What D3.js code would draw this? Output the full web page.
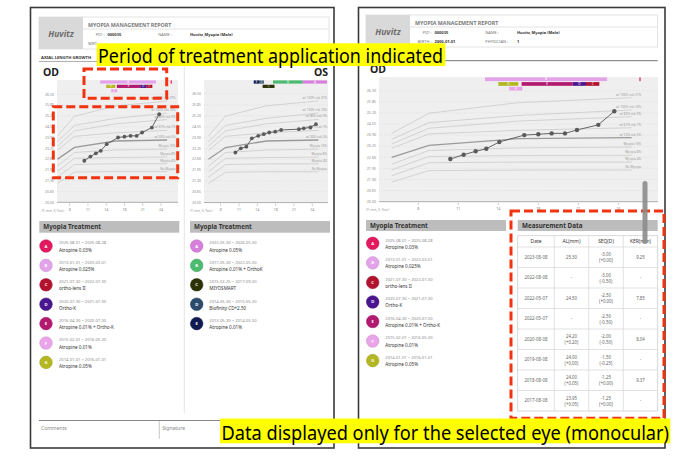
<!DOCTYPE html>
<html>
<head>
<meta charset="utf-8">
<script src="https://cdn.jsdelivr.net/npm/d3@7"></script>
<style>
  body { margin: 0; background: #fff; }
  svg { display: block; font-family: "Noto Sans", "Open Sans", sans-serif; }
</style>
</head>
<body>
<div id="chart"></div>
<script>
// ---- data ----
var yTicks = [20.00, 20.65, 21.30, 21.95, 22.60, 23.25, 23.90, 24.55, 25.20, 25.85, 26.50];
var xTicks = [8, 11, 14, 18, 21, 24];

var odAge = [10.4, 11.4, 12.3, 13.1, 14.1, 16.6, 18.0, 19.0, 20.0, 20.9, 22.5, 23.7];
var odAL  = [22.50, 22.75, 22.95, 23.10, 23.50, 23.90, 23.95, 24.00, 24.00, 24.20, 24.50, 25.30];
var osAge = [10.4, 11.3, 12.2, 13.1, 14.2, 15.4, 16.6, 17.9, 18.9, 21.8, 22.6, 23.7, 24.6];
var osAL  = [23.00, 23.25, 23.35, 23.85, 24.00, 24.10, 24.20, 24.25, 24.35, 24.40, 24.45, 24.50, 24.70];

// reference growth curves (age -> axial length)
var curveAge = [6, 8.8, 16, 25];
var curveNames = ["w/ 100% risk 37%", "w/ 100% risk 16%", "w/ 80% risk 9%", "w/ 67% risk 7%",
                  "w/ 33% risk 5%", "Myopia 16%", "Myopia 8%", "Myopia 4%", "No Myopia"];
var curveValues = [
  [24.00, 25.18, 25.80, 26.09],
  [23.65, 24.63, 25.05, 25.37],
  [23.38, 24.30, 24.72, 24.98],
  [23.13, 23.97, 24.18, 24.33],
  [22.60, 23.30, 23.69, 23.75],
  [22.19, 23.00, 23.15, 23.20],
  [21.86, 22.65, 22.70, 22.72],
  [21.52, 22.28, 22.32, 22.32],
  [21.15, 21.82, 21.85, 21.85]
];
var thickCurve = 4;

var birthDate = "2000-01-01";

var odLetters = ["A", "B", "C", "D", "E", "F", "G"];
var odStart = ["2025-08-01", "2013-01-01", "2021-07-30", "2020-07-30", "2016-04-30", "2015-02-01", "2014-01-01"];
var odEnd   = ["2025-08-28", "2023-03-01", "2022-07-30", "2021-07-30", "2020-07-30", "2016-05-30", "2016-01-01"];
var odNames = ["Atropine 0.03%", "Atropine 0.025%", "ortho-lens II", "Ortho-K",
               "Atropine 0.01% + Ortho-K", "Atropine 0.01%", "Atropine 0.05%"];
var odColors = ["#e2195e", "#e2a3ea", "#b3122f", "#4a1590", "#b3196f", "#eaa5ea", "#b3b722"];

var osLetters = ["A", "B", "C", "D", "E"];
var osStart = ["2022-05-30", "2017-05-30", "2015-02-25", "2014-05-30", "2013-05-30"];
var osEnd   = ["2026-05-30", "2022-05-30", "2017-09-30", "2015-05-30", "2014-05-30"];
var osNames = ["Atropine 0.05%", "Atropine 0.01% + OrthoK", "MIYOSMART", "Biofinity CD+2.50", "Atropine 0.01%"];
var osColors = ["#d77fdc", "#4cba6f", "#2c3106", "#2c4a6b", "#0f1b50"];

var tableHead = ["Date", "AL(mm)", "SEQ(D)", "KER(mm)"];
var mDate  = ["2023-08-08", "2022-08-08", "2022-05-07", "2022-05-07", "2020-08-08", "2019-08-08", "2018-08-08", "2017-08-08"];
var mAL    = ["25.30", "-", "24.50", "-", "24.20", "24.00", "24.00", "23.95"];
var mALd   = ["", "", "", "", "(+0.20)", "(+0.00)", "(+0.05)", "(+0.05)"];
var mSEQ   = ["-3.00", "-3.00", "-2.50", "-2.50", "-2.00", "-1.50", "-1.25", "-1.25"];
var mSEQd  = ["(+0.00)", "(-0.50)", "(+0.00)", "(-0.50)", "(-0.50)", "(-0.25)", "(+0.00)", "(+0.00)"];
var mKER   = ["9.25", "-", "7.85", "-", "8.04", "-", "9.37", "-"];

// ---- helpers ----
var parseDate = d3.timeParse("%Y-%m-%d");
var birth = parseDate(birthDate);
function ageOf(s) { return (parseDate(s) - birth) / (365.25 * 864e5); }

// greedy row placement so overlapping periods stack
function treatRows(starts, ends) {
  var items = starts.map(function(s, i) { return {i: i, s: ageOf(s), e: ageOf(ends[i])}; });
  items.sort(function(a, b) { return a.s - b.s; });
  var rowEnds = [], rows = [];
  items.forEach(function(it) {
    var r = 0;
    while (r < rowEnds.length && rowEnds[r] > it.s + 1e-6) r++;
    rowEnds[r] = it.e;
    rows[it.i] = r;
  });
  return rows;
}

var svg = d3.select("#chart")
  .append("svg")
    .attr("width", 692)
    .attr("height", 463);

svg.append("rect").attr("width", 692).attr("height", 463).attr("fill", "#fff");

// page frames
[[30.5, 7.5, 303.5, 440.5], [358.5, 7.5, 306.5, 440.5]].forEach(function(p) {
  svg.append("rect")
    .attr("x", p[0]).attr("y", p[1]).attr("width", p[2]).attr("height", p[3])
    .attr("fill", "#fff").attr("stroke", "#3a3a3a").attr("stroke-width", 1.6);
});

function drawHeader(L, T, R, birthRow) {
  var g = svg.append("g");
  g.append("rect").attr("x", L).attr("y", T).attr("width", R - L).attr("height", 32)
    .attr("fill", "#fff").attr("stroke", "#dcdcdc").attr("stroke-width", 0.8);
  g.append("rect").attr("x", L).attr("y", T).attr("width", 44).attr("height", 32).attr("fill", "#d9d9d9");
  g.append("line").attr("x1", L + 44).attr("x2", R).attr("y1", T + 12).attr("y2", T + 12)
    .attr("stroke", "#dcdcdc").attr("stroke-width", 0.8);
  g.append("text").attr("x", L + 22).attr("y", T + 20).attr("text-anchor", "middle")
    .style("font-size", "8.5px").style("font-weight", "bold").style("font-style", "italic")
    .attr("fill", "#6e6e6e").text("Huvitz");
  g.append("text").attr("x", L + 49).attr("y", T + 10)
    .style("font-size", "5.3px").style("font-weight", "bold").attr("fill", "#7a7a7a")
    .text("MYOPIA MANAGEMENT REPORT");
  var info = [["PID :", "000035", "NAME :", "Huvitz_Myopia (Male)", 19]];
  if (birthRow) info.push(["BIRTH :", "2000-01-01", "PHYSICIAN :", "1", 28]);
  info.forEach(function(r) {
    g.append("text").attr("x", L + 65.5).attr("y", T + r[4]).attr("text-anchor", "end")
      .style("font-size", "4px").attr("fill", "#777").text(r[0]);
    g.append("text").attr("x", L + 68.5).attr("y", T + r[4])
      .style("font-size", "4px").style("font-weight", "bold").attr("fill", "#333").text(r[1]);
    g.append("text").attr("x", L + 119.3).attr("y", T + r[4])
      .style("font-size", "4px").attr("fill", "#777").text(r[2]);
    g.append("text").attr("x", L + 151).attr("y", T + r[4])
      .style("font-size", "4px").style("font-weight", "bold").attr("fill", "#333").text(r[3]);
  });
  if (!birthRow) {
    // only the start of the label peeks out from under the note on this page
    g.append("text").attr("x", L + 49.3).attr("y", T + 28)
      .style("font-size", "4px").attr("fill", "#777").text("BIRT");
  }
}

function drawGrowth(o) {
  var g = svg.append("g");
  var x = d3.scaleLinear()
    .domain(xTicks)
    .range(xTicks.map(function(d, i) { return o.t0 + i * (o.t1 - o.t0) / (xTicks.length - 1); }));
  var y = d3.scaleLinear().domain([20, 26.5]).range([o.yb, o.yt]);

  // plot background
  g.append("rect").attr("x", o.l).attr("y", o.top).attr("width", o.r - o.l).attr("height", o.yb - o.top)
    .attr("fill", "#efefef");

  // grid + y labels
  g.selectAll(".grid").data(yTicks.slice(1)).enter().append("line")
    .attr("x1", o.l).attr("x2", o.r)
    .attr("y1", function(d) { return y(d); }).attr("y2", function(d) { return y(d); })
    .attr("stroke", "#d2d2d2").attr("stroke-width", 0.5).attr("stroke-dasharray", "1,1.5");
  g.selectAll(".yl").data(yTicks).enter().append("text")
    .attr("x", o.l - 3).attr("y", function(d) { return y(d) + 1.2; })
    .attr("text-anchor", "end").style("font-size", o.fs + "px").attr("fill", "#888")
    .text(function(d) { return d.toFixed(2); });

  // x axis
  g.append("line").attr("x1", o.l).attr("x2", o.r).attr("y1", o.yb).attr("y2", o.yb)
    .attr("stroke", "#9a9a9a").attr("stroke-width", 0.8);
  g.selectAll(".xt").data(xTicks).enter().append("line")
    .attr("x1", function(d) { return x(d); }).attr("x2", function(d) { return x(d); })
    .attr("y1", o.yb + 1).attr("y2", o.yb + 3.5)
    .attr("stroke", "#999").attr("stroke-width", 0.5);
  g.selectAll(".xl").data(xTicks).enter().append("text")
    .attr("x", function(d) { return x(d); }).attr("y", o.yb + 8.5)
    .attr("text-anchor", "middle").style("font-size", o.fs + "px").attr("fill", "#888")
    .text(function(d) { return d; });
  g.append("text").attr("x", o.capX).attr("y", o.yb + 9.5)
    .style("font-size", (o.fs - 0.4) + "px").attr("fill", "#999").text("(Y: mm, X: Year)");

  // reference curves
  var line = d3.line()
    .x(function(d) { return x(d[0]); })
    .y(function(d) { return y(d[1]); });
  curveValues.forEach(function(vals, k) {
    g.append("path")
      .attr("d", line(curveAge.map(function(a, i) { return [a, vals[i]]; })))
      .attr("fill", "none")
      .attr("stroke", k === thickCurve ? "#9a9a9a" : "#cacaca")
      .attr("stroke-width", k === thickCurve ? 1.3 : 0.8);
    g.append("text")
      .attr("x", x(curveAge[curveAge.length - 1]) + o.labelDx)
      .attr("y", y(vals[vals.length - 1]) - 2)
      .attr("text-anchor", "end").style("font-size", (o.fs - 0.5) + "px").attr("fill", "#9a9a9a")
      .text(curveNames[k]);
  });

  // treatment periods
  var rows = treatRows(o.tStart, o.tEnd);
  o.tStart.forEach(function(s, i) {
    var x0 = x(ageOf(s)), x1 = x(ageOf(o.tEnd[i]));
    var w = Math.max(x1 - x0, 1.2);
    var by = o.top + 0.4 + rows[i] * o.pitch;
    g.append("rect").attr("x", x0).attr("y", by).attr("width", w).attr("height", o.barH)
      .attr("fill", o.tColors[i]);
    if (w > 4) {
      g.append("text").attr("x", x0 + w / 2).attr("y", by + o.barH * 0.8)
        .attr("text-anchor", "middle").style("font-size", (o.barH * 0.85) + "px")
        .attr("fill", "#fff").text(o.tLetters[i]);
    }
  });

  // measurements
  var pts = o.ages.map(function(a, i) { return [a, o.al[i]]; });
  g.append("path").attr("d", line(pts)).attr("fill", "none")
    .attr("stroke", "#555").attr("stroke-width", 0.9);
  g.selectAll(".pt").data(pts).enter().append("circle")
    .attr("cx", function(d) { return x(d[0]); })
    .attr("cy", function(d) { return y(d[1]); })
    .attr("r", o.pr).attr("fill", "#5a5a5a");
}

function drawTreatList(o) {
  var g = svg.append("g");
  g.append("rect").attr("x", o.l).attr("y", o.top).attr("width", o.w).attr("height", o.h).attr("fill", "#bdbdbd");
  g.append("text").attr("x", o.l + 4).attr("y", o.top + o.h * 0.72)
    .style("font-size", "6.3px").style("font-weight", "bold").attr("fill", "#333").text("Myopia Treatment");
  o.letters.forEach(function(L, i) {
    var cy = o.cy0 + i * o.pitch;
    g.append("circle").attr("cx", o.cx).attr("cy", cy).attr("r", 6.3)
      .attr("fill", o.colors[i]).attr("stroke", d3.color(o.colors[i]).darker(0.4)).attr("stroke-width", 0.5);
    g.append("text").attr("x", o.cx).attr("y", cy + 1.5).attr("text-anchor", "middle")
      .style("font-size", "4.2px").style("font-weight", "bold").attr("fill", "#fff").text(L);
    g.append("text").attr("x", o.tx).attr("y", cy - 1.6)
      .style("font-size", "4.1px").attr("fill", "#888").text(o.start[i] + " ~ " + o.end[i]);
    g.append("text").attr("x", o.tx).attr("y", cy + 5.5)
      .style("font-size", "4.6px").attr("fill", "#333").text(o.names[i]);
  });
}

// ---------------- left page ----------------
drawHeader(39, 17, 329, false);
svg.append("text").attr("x", 41).attr("y", 59).style("font-size", "4.2px").style("font-weight", "bold")
  .attr("fill", "#333").text("AXIAL LENGTH GROWTH");
svg.append("line").attr("x1", 39).attr("x2", 329).attr("y1", 61.5).attr("y2", 61.5)
  .attr("stroke", "#9a9a9a").attr("stroke-width", 0.8);
svg.append("line").attr("x1", 184.3).attr("x2", 184.3).attr("y1", 62).attr("y2", 413)
  .attr("stroke", "#dedede").attr("stroke-width", 0.8);
svg.append("text").attr("x", 43).attr("y", 76).style("font-size", "10.5px").style("font-weight", "bold")
  .attr("fill", "#222").text("OD");
svg.append("text").attr("x", 328).attr("y", 76).attr("text-anchor", "end").style("font-size", "10.5px")
  .style("font-weight", "bold").attr("fill", "#222").text("OS");

drawGrowth({l: 57, r: 178, top: 80, yt: 94.3, yb: 202.3, t0: 69.7, t1: 161, fs: 3.5, capX: 41.7,
  labelDx: 8.5, pitch: 4.35, barH: 3.2, pr: 1.9,
  tStart: odStart, tEnd: odEnd, tColors: odColors, tLetters: odLetters, ages: odAge, al: odAL});
drawGrowth({l: 204, r: 328, top: 80, yt: 94.1, yb: 202.6, t0: 220.7, t1: 312.3, fs: 3.5, capX: 190,
  labelDx: 8.5, pitch: 4.35, barH: 3.2, pr: 1.9,
  tStart: osStart, tEnd: osEnd, tColors: osColors, tLetters: osLetters, ages: osAge, al: osAL});

drawTreatList({l: 39.3, top: 221, w: 140, h: 11.7, cx: 46, cy0: 246, pitch: 19.4, tx: 59,
  letters: odLetters, colors: odColors, start: odStart, end: odEnd, names: odNames});
drawTreatList({l: 190, top: 221, w: 140, h: 11.7, cx: 196.7, cy0: 246, pitch: 19.4, tx: 209.3,
  letters: osLetters, colors: osColors, start: osStart, end: osEnd, names: osNames});

// footer
svg.append("line").attr("x1", 39).attr("x2", 329).attr("y1", 420.5).attr("y2", 420.5)
  .attr("stroke", "#888").attr("stroke-width", 1.1);
svg.append("line").attr("x1", 159.3).attr("x2", 159.3).attr("y1", 421).attr("y2", 439)
  .attr("stroke", "#bbb").attr("stroke-width", 0.8);
svg.append("text").attr("x", 41).attr("y", 429.5).style("font-size", "5px").attr("fill", "#888").text("Comments");
svg.append("text").attr("x", 162.3).attr("y", 429.5).style("font-size", "5px").attr("fill", "#888").text("Signature");

// ---------------- right page ----------------
drawHeader(366, 15, 657.7, true);
svg.append("line").attr("x1", 366).attr("x2", 657.7).attr("y1", 60.7).attr("y2", 60.7)
  .attr("stroke", "#777").attr("stroke-width", 1);
svg.append("text").attr("x", 370).attr("y", 72.5).style("font-size", "10.5px").style("font-weight", "bold")
  .attr("fill", "#222").text("OD");

drawGrowth({l: 379, r: 658, top: 77, yt: 90.7, yb: 201.7, t0: 418.3, t1: 618.3, fs: 3.6, capX: 366,
  labelDx: 9.5, pitch: 4.7, barH: 3.7, pr: 2.2,
  tStart: odStart, tEnd: odEnd, tColors: odColors, tLetters: odLetters, ages: odAge, al: odAL});

drawTreatList({l: 366, top: 220, w: 140, h: 11, cx: 372.7, cy0: 243.3, pitch: 19.55, tx: 385.3,
  letters: odLetters, colors: odColors, start: odStart, end: odEnd, names: odNames});

// measurement data table
var mt = svg.append("g");
mt.append("rect").attr("x", 517.7).attr("y", 220).attr("width", 140).attr("height", 11).attr("fill", "#bdbdbd");
mt.append("text").attr("x", 522).attr("y", 228).style("font-size", "6.3px").style("font-weight", "bold")
  .attr("fill", "#333").text("Measurement Data");

var colX = [517.7, 554.3, 588.7, 623.3, 657.7];
var rowY = d3.scaleLinear().domain([0, mDate.length]).range([247, 411]);
var headTop = 235.7;
mt.append("rect").attr("x", colX[0]).attr("y", headTop).attr("width", colX[4] - colX[0]).attr("height", 411 - headTop)
  .attr("fill", "#fff").attr("stroke", "#cfcfcf").attr("stroke-width", 0.8);
colX.slice(1, 4).forEach(function(cx) {
  mt.append("line").attr("x1", cx).attr("x2", cx).attr("y1", headTop).attr("y2", 411)
    .attr("stroke", "#d6d6d6").attr("stroke-width", 0.7);
});
d3.range(mDate.length).forEach(function(i) {
  mt.append("line").attr("x1", colX[0]).attr("x2", colX[4]).attr("y1", rowY(i)).attr("y2", rowY(i))
    .attr("stroke", "#d6d6d6").attr("stroke-width", 0.7);
});
tableHead.forEach(function(h, j) {
  mt.append("text").attr("x", (colX[j] + colX[j + 1]) / 2).attr("y", headTop + 7.3)
    .attr("text-anchor", "middle").style("font-size", "4.9px").attr("fill", "#333").text(h);
});
function cell(j, i, main, delta) {
  var cxm = (colX[j] + colX[j + 1]) / 2, cym = (rowY(i) + rowY(i + 1)) / 2;
  if (delta) {
    mt.append("text").attr("x", cxm).attr("y", cym - 1.2).attr("text-anchor", "middle")
      .style("font-size", "4.4px").attr("fill", "#666").text(main);
    mt.append("text").attr("x", cxm).attr("y", cym + 5.2).attr("text-anchor", "middle")
      .style("font-size", "4.4px").attr("fill", "#666").text(delta);
  } else {
    mt.append("text").attr("x", cxm).attr("y", cym + 1.6).attr("text-anchor", "middle")
      .style("font-size", "4.4px").attr("fill", "#666").text(main);
  }
}
mDate.forEach(function(d, i) {
  cell(0, i, d, "");
  cell(1, i, mAL[i], mALd[i]);
  cell(2, i, mSEQ[i], mSEQd[i]);
  cell(3, i, mKER[i], "");
});

// ---------------- annotations ----------------
var red = "#f2330f";
[[84, 69, 166.7, 98.3], [53.3, 106.7, 177.7, 177.7], [511, 211, 664, 418.3]].forEach(function(b) {
  svg.append("rect").attr("x", b[0]).attr("y", b[1]).attr("width", b[2] - b[0]).attr("height", b[3] - b[1])
    .attr("fill", "none").attr("stroke", red).attr("stroke-width", 3).attr("stroke-dasharray", "9,4");
});

// scroll thumb
svg.append("rect").attr("x", 642.5).attr("y", 181).attr("width", 5).attr("height", 63).attr("rx", 2.5)
  .attr("fill", "#8c8c8c").attr("opacity", 0.9);

var notes = [
  {x: 96.7, y: 43.3, w: 348.6, h: 22.7, tx: 98, ty: 62.5, tl: 345, text: "Period of treatment application indicated"},
  {x: 220, y: 418.5, w: 450.3, h: 24.8, tx: 221.5, ty: 439.5, tl: 447.5, text: "Data displayed only for the selected eye (monocular)"}
];
notes.forEach(function(n) {
  svg.append("rect").attr("x", n.x).attr("y", n.y).attr("width", n.w).attr("height", n.h).attr("fill", "#ffff00");
  svg.append("text").attr("x", n.tx).attr("y", n.ty)
    .attr("textLength", n.tl).attr("lengthAdjust", "spacingAndGlyphs")
    .style("font-size", "19px").attr("fill", "#000").text(n.text);
});
</script>
</body>
</html>
